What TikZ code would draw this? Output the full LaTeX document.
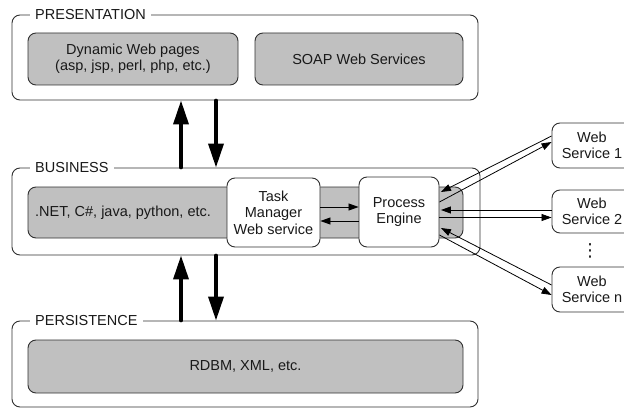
\documentclass[tikz,border=0pt]{standalone}
\usepackage{fontspec}
\setmainfont{Liberation Sans}
\newfontfamily\symfont{DejaVu Sans}
\usetikzlibrary{arrows.meta,calc}
\definecolor{boxgrey}{HTML}{C0C0C0}
\definecolor{linegrey}{HTML}{303030}
\begin{document}
\begin{tikzpicture}[x=1pt,y=-1pt,
  every node/.style={font=\fontsize{14.5}{16.5}\selectfont, text=black!90},
  frame/.style={draw=linegrey, line width=0.9pt, rounded corners=8pt, minimum width=#1, inner sep=0pt},
  frametitle/.style={fill=white, anchor=west, inner xsep=5pt, inner ysep=1pt},
  greybox/.style={draw=linegrey, line width=0.9pt, fill=boxgrey, rounded corners=8pt, inner sep=0pt, align=center},
  whitebox/.style={draw=linegrey, line width=0.9pt, fill=white, rounded corners=8pt, inner sep=0pt, align=center},
  bigarrow/.style={line width=3.5pt, line cap=round, -{Triangle[length=24pt,width=15pt]}},
  thinarrow/.style={line width=0.8pt, -{Triangle[length=10pt,width=7pt]}}
]
\useasboundingbox (0,0) rectangle (624,409);

% ---------- frames ----------
\node[frame=466pt, minimum height=85pt] (pres) at (245,57.5) {};
\node[frametitle] (prest) at (30,15) {PRESENTATION};
\node[frame=468pt, minimum height=87pt] (bus) at (246,211.5) {};
\node[frametitle] (bust) at (30,168) {BUSINESS};
\node[frame=466pt, minimum height=86pt] (pers) at (245,364) {};
\node[frametitle] (perst) at (30,321) {PERSISTENCE};

% ---------- presentation ----------
\node[greybox, minimum width=210pt, minimum height=52pt] (dyn) at (133,59)
  {Dynamic Web pages\\(asp, jsp, perl, php, etc.)};
\node[greybox, minimum width=208pt, minimum height=52pt] (soap) at (359,59)
  {SOAP Web Services};

% ---------- business ----------
\node[greybox, minimum width=435pt, minimum height=51pt] (net) at (245.5,212.5) {};
\node[anchor=west, inner sep=0pt] (netl) at (35,213) {.NET, C\#, java, python, etc.};
\node[whitebox, minimum width=93pt, minimum height=69pt] (tm) at (273.5,212.5)
  {Task\\Manager\\Web service};
\node[whitebox, minimum width=80pt, minimum height=70pt] (pe) at (399,212)
  {Process\\Engine};

\draw[thinarrow] ([yshift=5.5pt]tm.east) -- ([yshift=5.5pt]tm.east -| pe.west);
\draw[thinarrow] ([yshift=-8.5pt]tm.east -| pe.west) -- ([yshift=-8.5pt]tm.east);

% ---------- persistence ----------
\node[greybox, minimum width=435pt, minimum height=53pt] (db) at (245.5,366.5)
  {RDBM, XML, etc.};

% ---------- layer arrows ----------
\coordinate (ux) at (181,0);
\coordinate (dx) at (216,0);
\draw[bigarrow] (bus.north -| ux) -- (pres.south -| ux);
\draw[bigarrow] (pres.south -| dx) -- (bus.north -| dx);
\draw[bigarrow] (pers.north -| ux) -- (bus.south -| ux);
\draw[bigarrow] (bus.south -| dx) -- (pers.north -| dx);

% ---------- web services ----------
\node[whitebox, minimum width=80pt, minimum height=45pt] (ws1) at (592,145.5) {Web\\Service 1};
\node[whitebox, minimum width=80pt, minimum height=43pt] (ws2) at (592,211.5) {Web\\Service 2};
\node[inner sep=0pt, font=\symfont\fontsize{18}{18}\selectfont] (dots) at (590,251) {⋮};
\node[whitebox, minimum width=80pt, minimum height=45pt] (wsn) at (592,289.5) {Web\\Service n};

\coordinate (p1) at ([xshift=1.5pt,yshift=20pt]pe.east);
\coordinate (p2) at ([yshift=10pt]pe.east);
\coordinate (p3) at ([xshift=1.5pt,yshift=2pt]pe.east);
\coordinate (p4) at ([yshift=-5.5pt]pe.east);
\coordinate (p5) at ([xshift=1.5pt,yshift=-16pt]pe.east);
\coordinate (p6) at ([yshift=-23pt]pe.east);

\draw[thinarrow] ([yshift=9.5pt]ws1.west) -- (p1);
\draw[thinarrow] (p2) -- ([yshift=3.5pt]ws1.west);
\draw[thinarrow] (p3 -| ws2.west) -- (p3);
\draw[thinarrow] (p4) -- (p4 -| ws2.west);
\draw[thinarrow] ([yshift=4.5pt]wsn.west) -- (p5);
\draw[thinarrow] (p6) -- ([yshift=-5.5pt]wsn.west);
\end{tikzpicture}
\end{document}
